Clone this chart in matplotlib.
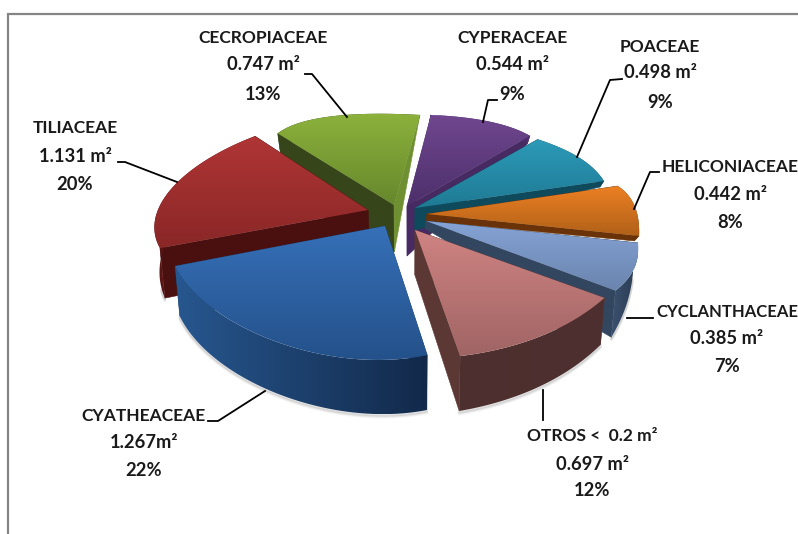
import numpy as np
import matplotlib
matplotlib.use("Agg")
import matplotlib.pyplot as plt
from matplotlib.colors import to_rgb
from matplotlib.patches import Polygon

# ---------- data ----------
names = ["CYPERACEAE", "POACEAE", "HELICONIACEAE", "CYCLANTHACEAE",
         "OTROS <  0.2 m²", "CYATHEACEAE", "TILIACEAE", "CECROPIACEAE"]
areas = [0.544, 0.498, 0.442, 0.385, 0.697, 1.267, 1.131, 0.747]
area_labels = ["0.544 m²", "0.498 m²", "0.442 m²", "0.385 m²",
               "0.697 m²", "1.267m²", "1.131 m²", "0.747 m²"]
percents = ["9%", "9%", "8%", "7%", "12%", "22%", "20%", "13%"]

# ---------- styling / projection (pixels) ----------
start_deg = 6.0
apex = [(407, 206), (415, 208), (427, 214), (426, 221), (415, 230), (385, 226), (368, 210), (394, 205)]
rx_pair = [(230, 190), (190, 199), (201, 215), (215, 228), (228, 213), (199, 227), (225, 172), (177, 249)]
ry_pair = [(91.5, 92), (90, 86), (89, 132), (132, 125), (122, 129), (132, 105.5), (100, 98), (95, 90.5)]
bulge = [0.0, 0.02, 0.0, 0.01, 0.02, 0.10, 0.01, 0.0]
apex_depth = [50, 22, 7, 8, 45, 50, 47, 47]
top_hi = ["#70478f", "#2c9ab8", "#ec8024", "#85a3d6", "#cf8482", "#3670b8", "#b03535", "#8cb23c"]
top_lo = ["#4c2f6a", "#1f7a94", "#b06018", "#6a84ad", "#a06464", "#24518a", "#8a2727", "#66872c"]
wall_a = ["#5a3a7a", "#0e4a5c", "#6a3208", "#334660", "#5c3835", "#1c3f6c", "#4a1010", "#36451a"]
wall_b = ["#472a62", "#0e4a5c", "#6a3208", "#334660", "#5c3835", "#1c3f6c", "#4a1010", "#6e9030"]
side_l = ["#4c2f6a", "#0e4a5c", "#6a3208", "#3a5170", "#4c2f2e", "#27578f", "#5a1414", "#36451a"]
side_r = ["#4c2f6a", "#0e4a5c", "#6a3208", "#2c3b50", "#4f3030", "#12294a", "#5a1414", "#36451a"]
depth_deg = [6, 40, 72, 100, 124, 168, 248, 319, 366]
depth_px = [0, 8, 6, 5, 47, 55, 50, 19, 0]
draw_order = [7, 0, 1, 2, 3, 6, 4, 5]

label_x = [512, 660, 730, 727, 592, 144, 75, 263]
label_y = [(38, 65, 94), (47, 73, 102), (167, 194, 222), (312, 339, 367),
           (436, 464, 491), (416, 443, 471), (128, 156, 184), (38, 65, 94)]
name_size = [12.5, 12.5, 12.5, 12, 12.5, 12.5, 12.5, 12.5]
leaders = [[(497, 100), (488, 100), (483, 122)],
           [(622, 79), (610, 80), (577, 157)],
           [(659, 172), (650, 172), (634, 209)],
           [(653, 318), (627, 318)],
           [(543, 390), (543, 420)],
           [(208, 421), (218, 421), (265, 391)],
           [(118, 162), (125, 162), (177, 182)],
           [(305, 74), (312, 74), (347, 117)]]

plt.rcParams["font.family"] = ["Lato", "DejaVu Sans"]
fig = plt.figure(figsize=(7.98, 5.34), dpi=100)
ax = fig.add_axes([0, 0, 1, 1])
ax.set_axis_off()


def depth(theta):
    return np.interp(theta, depth_deg, depth_px)


def skew(x):
    return (410 - x) * 0.02


def gradient_fill(pts, c1, c2, zz, vertical=True):
    """Fill a polygon with a two-colour linear gradient."""
    pts = np.asarray(pts)
    poly = Polygon(pts, closed=True, fc="none", ec="none", zorder=zz)
    ax.add_patch(poly)
    g = np.linspace(0, 1, 128)
    g = g[:, None, None] if vertical else g[None, :, None]
    img = np.array(to_rgb(c1))[None, None, :] * (1 - g) + np.array(to_rgb(c2))[None, None, :] * g
    im = ax.imshow(img, extent=(pts[:, 0].min(), pts[:, 0].max(), pts[:, 1].max(), pts[:, 1].min()),
                   aspect="auto", zorder=zz, interpolation="bilinear")
    im.set_clip_path(poly)


fractions = np.array(areas) / sum(areas) * 360
edges = start_deg + np.concatenate([[0], np.cumsum(fractions)])
z = 2
for i in draw_order:
    t1, t2 = edges[i], edges[i + 1]
    th = np.linspace(t1, t2, 120)
    u = (th - t1) / (t2 - t1)
    scale = 1 + bulge[i] * np.sin(np.pi * u)
    rx = (rx_pair[i][0] + (rx_pair[i][1] - rx_pair[i][0]) * u) * scale
    ry = (ry_pair[i][0] + (ry_pair[i][1] - ry_pair[i][0]) * u) * scale
    ax0, ay0 = apex[i]
    x = ax0 + rx * np.sin(np.radians(th))
    y = ay0 - ry * np.cos(np.radians(th))
    d = depth(th)
    xb = x + skew(x)
    yb = y + d
    axb, ayb = ax0 + skew(ax0), ay0 + apex_depth[i]

    # soft shadow below the rim (front part only)
    if d.max() > 15:
        front = np.cos(np.radians(th)) < -0.3
        for off, al in [(3, 0.06), (2, 0.09), (1, 0.13)]:
            ax.plot(xb[front], yb[front] + off, color="#555555", alpha=al, lw=2, zorder=z,
                    solid_capstyle="round")
    z += 1

    def wall(px, py, pd, colour, zz):
        ax.add_patch(Polygon([(ax0, ay0), (px, py), (px + skew(px), py + pd), (axb, ayb)],
                             closed=True, fc=colour, ec=colour, lw=0.4, zorder=zz))

    if 180 < (t1 + t2) / 2 < 300:
        wall(x[-1], y[-1], d[-1], wall_b[i], z)
        wall(x[0], y[0], d[0], wall_a[i], z + 1)
    else:
        wall(x[0], y[0], d[0], wall_a[i], z)
        wall(x[-1], y[-1], d[-1], wall_b[i], z + 1)
    z += 2

    # outer rim, shaded left to right
    rim = np.vstack([np.column_stack([x, y]), np.column_stack([xb, yb])[::-1]])
    gradient_fill(rim, side_l[i], side_r[i], z, vertical=False)
    z += 1

    # top face, shaded top to bottom
    top = np.vstack([[ax0, ay0], np.column_stack([x, y])])
    gradient_fill(top, top_hi[i], top_lo[i], z, vertical=True)
    z += 1

ax.set_xlim(0, 798)
ax.set_ylim(534, 0)

# frame
ax.plot([8, 8, 798], [534, 14, 14], color="#858585", lw=1.6, zorder=1, solid_joinstyle="miter")

# labels and leaders
for i in range(len(names)):
    lx = label_x[i]
    sizes = (name_size[i], 13.2, 13.2)
    for txt, ly, fs in zip((names[i], area_labels[i], percents[i]), label_y[i], sizes):
        ax.text(lx, ly, txt, ha="center", va="center", fontsize=fs, weight="bold",
                color="#1a1a1a", zorder=z + 2)
    xs, ys = zip(*leaders[i])
    ax.plot(xs, ys, color="black", lw=1.3, zorder=z + 1)

fig.savefig("out.png", dpi=100, facecolor="white")
